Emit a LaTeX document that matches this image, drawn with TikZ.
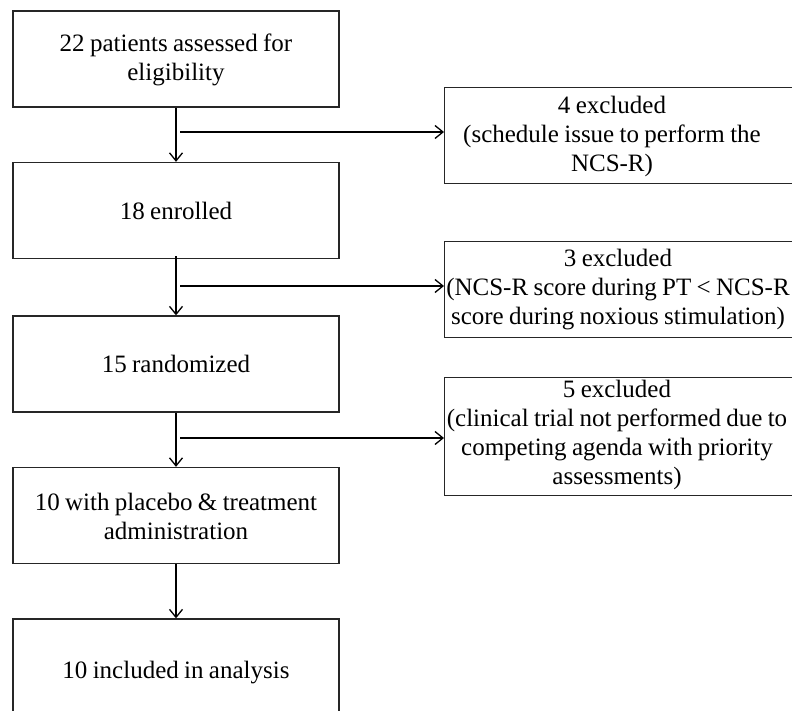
\documentclass[tikz,border=0pt]{standalone}
\usepackage{fontspec}
\setmainfont{Liberation Serif}[WordSpace={0.85,0.5,0.3}]
\usetikzlibrary{arrows.meta}
\begin{document}
\begin{tikzpicture}[x=1pt,y=-1pt,
  box/.style={draw=black!85,line width=1.3pt,minimum width=326pt,minimum height=96pt,inner sep=0pt},
  exbox/.style={draw=black!85,line width=1.3pt,minimum width=380pt,inner sep=0pt,anchor=north west},
  txt/.style={align=center,font=\fontsize{25}{29}\selectfont,inner sep=0pt},
  arr/.style={line width=1.3pt,-{Straight Barb[length=8pt,width=13pt,line width=1.3pt]}}]
\useasboundingbox (0,0) rectangle (792,711);
\clip (0,0) rectangle (792,711);
% main column
\node[box] (n1) at (176,59) {};
\node[txt] (t1) at (176,60) {22 patients assessed for\\eligibility};
\node[box] (n2) at (176,210.5) {};
\node[txt] (t2) at (176,211) {18 enrolled};
\node[box] (n3) at (176,364) {};
\node[txt] (t3) at (176,364) {15 randomized};
\node[box] (n4) at (176,515.5) {};
\node[txt] (t4) at (176,516) {10 with placebo \& treatment\\administration};
\node[box] (n5) at (176,667) {};
\node[txt] (t5) at (176,673) {10 included in analysis};
% exclusion boxes
\node[exbox,minimum height=96pt] (e1) at (444,87) {};
\node[txt] (u1) at (612,136) {4 excluded\\(schedule issue to perform the\\NCS-R)};
\node[exbox,minimum height=96pt] (e2) at (444,241) {};
\node[txt] (u2) at (618,290) {3 excluded\\(NCS-R score during PT < NCS-R\\score during noxious stimulation)};
\node[exbox,minimum height=118pt] (e3) at (444,377) {};
\node[txt] (u3) at (617,435) {5 excluded\\(clinical trial not performed due to\\competing agenda with priority\\assessments)};
% branch points
\coordinate (b1) at (180,132);
\coordinate (b2) at (180,286);
\coordinate (b3) at (180,438);
% connectors
\draw[arr] (n1.south) -- (n2.north);
\draw[arr] ([yshift=3pt]n2.south) -- (n3.north);
\draw[arr] (n3.south) -- (n4.north);
\draw[arr] (n4.south) -- (n5.north);
\draw[arr] (b1) -- (b1 -| e1.west);
\draw[arr] (b2) -- (b2 -| e2.west);
\draw[arr] (b3) -- (b3 -| e3.west);
\end{tikzpicture}
\end{document}
